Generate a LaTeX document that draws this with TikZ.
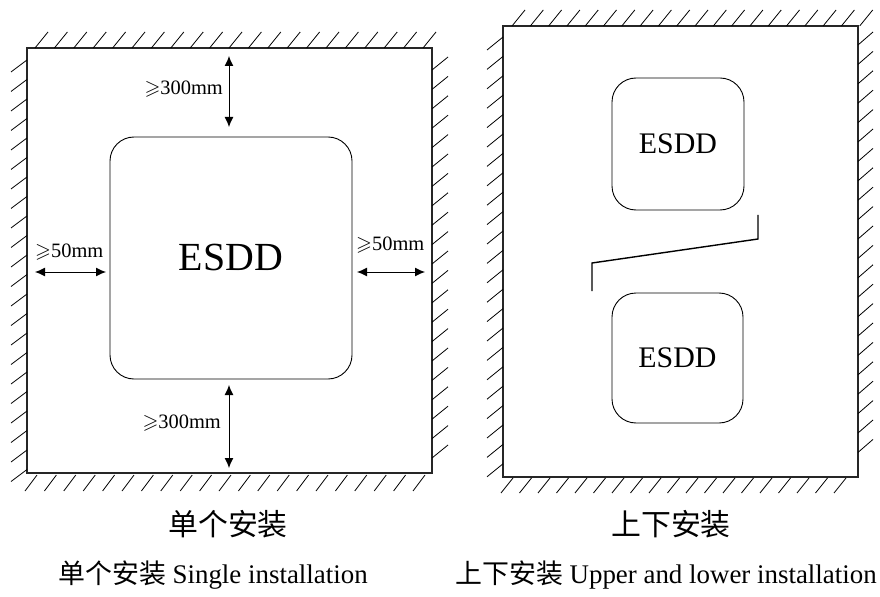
\documentclass[tikz,border=0pt]{standalone}
\usepackage{amssymb}
\usepackage{fontspec}
\setmainfont{Liberation Serif}
\newfontfamily\cjk{Noto Sans CJK SC}
\usetikzlibrary{arrows.meta,positioning}

\tikzset{
  wall/.style={draw=black!85,line width=1.2bp,inner sep=0pt,outer sep=0pt},
  esddbox/.style={draw,line width=0.9bp,rounded corners=24bp,inner sep=0pt,outer sep=0pt},
  hatch/.style={line width=0.8bp},
  dim/.style={line width=1bp,{Latex[length=10bp,width=9bp]}-{Latex[length=10bp,width=9bp]}},
  dimlbl/.style={inner sep=0pt,font=\fontsize{20.5}{24}\selectfont},
  caption/.style={inner sep=0pt,font=\fontsize{30}{36}\selectfont}
}

\begin{document}
\begin{tikzpicture}[x=1bp,y=-1bp]
  \useasboundingbox (0,0) rectangle (880,597);

  % single installation
  \node[wall,minimum width=405bp,minimum height=425bp] (wallL) at (229.5,260.5) {};
  \node[esddbox,minimum width=242bp,minimum height=242bp,font=\fontsize{40}{48}\selectfont] (esdd) at (231,258) {ESDD};

  \foreach \x in {35,54.4,...,426} \draw[hatch] (\x,48) -- ++(13,-16);
  \foreach \y in {60,79.5,...,470} \draw[hatch] (27,\y) -- ++(-16,12);
  \foreach \y in {70,89.4,...,459} \draw[hatch] (432,\y) -- ++(16,-13);
  \foreach \x in {37,56.4,...,426} \draw[hatch] (\x,475) -- ++(-12,16);

  \coordinate (topA) at (229,56);
  \coordinate (topB) at (229,127);
  \coordinate (botA) at (229,385);
  \coordinate (botB) at (229,468);
  \coordinate (lftA) at (35,272);
  \coordinate (lftB) at (106,272);
  \coordinate (rgtA) at (357,272);
  \coordinate (rgtB) at (425,272);
  \draw[dim] (topA) -- (topB);
  \draw[dim] (botA) -- (botB);
  \draw[dim] (lftA) -- (lftB);
  \draw[dim] (rgtA) -- (rgtB);

  \node[dimlbl,anchor=east] (lblT) at (223,89) {$\geqslant$300mm};
  \node[dimlbl,anchor=east] (lblB) at (221,423) {$\geqslant$300mm};
  \node[dimlbl,anchor=west] (lblL) at (35,252) {$\geqslant$50mm};
  \node[dimlbl,anchor=west] (lblR) at (356,245) {$\geqslant$50mm};

  % upper and lower installation
  \node[wall,minimum width=355bp,minimum height=451bp] (wallR) at (680.5,251.5) {};
  \node[esddbox,minimum width=132bp,minimum height=132bp,font=\fontsize{30}{36}\selectfont] (esddU) at (678,144) {ESDD};
  \node[esddbox,minimum width=131bp,minimum height=130bp,font=\fontsize{30}{36}\selectfont] (esddD) at (677.5,358) {ESDD};

  \foreach \x in {512,530.3,...,862} \draw[hatch] (\x,26) -- ++(13,-16);
  \foreach \y in {37,56.4,...,465} \draw[hatch] (503,\y) -- ++(-16,13);
  \foreach \y in {45,64.4,...,469} \draw[hatch] (858,\y) -- ++(15,-13);
  \foreach \x in {513,531.5,...,849} \draw[hatch] (\x,478) -- ++(-12,15);

  \coordinate (sepA) at (592,291);
  \coordinate (sepB) at (592,263);
  \coordinate (sepC) at (758,239);
  \coordinate (sepD) at (758,215);
  \draw[line width=1.4bp] (sepA) -- (sepB) -- (sepC) -- (sepD);

  % captions
  \node[caption] (capL) at (228,524) {\cjk 单个安装};
  \node[caption] (capR) at (671,524) {\cjk 上下安装};
  \node[caption,font=\fontsize{27}{32}\selectfont] (subL) at (213,575) {{\cjk 单个安装} Single installation};
  \node[caption,font=\fontsize{27}{32}\selectfont] (subR) at (666,575) {{\cjk 上下安装} Upper and lower installation};
\end{tikzpicture}
\end{document}
